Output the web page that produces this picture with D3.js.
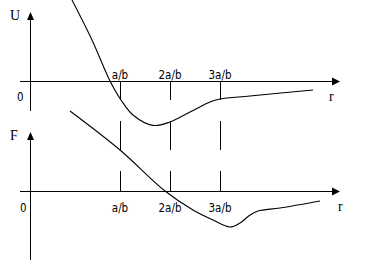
<!DOCTYPE html>
<html lang="en">
<head>
<meta charset="UTF-8">
<title>U and F versus r</title>
<script src="https://d3js.org/d3.v7.min.js"></script>
<style>
  body { margin: 0; background: #fff; }
  svg { display: block; }
  .axis { stroke: #000; stroke-width: 1; shape-rendering: crispEdges; }
  .curve { fill: none; stroke: #000; stroke-width: 1.1; }
  .tick { font-family: "DejaVu Sans Condensed", "DejaVu Sans", sans-serif; font-size: 11.5px; }
  .sym { font-family: "Liberation Serif", serif; font-size: 14px; }
</style>
</head>
<body>
<div id="chart"></div>
<script>
// r in units of a/b
var tickValues = [1, 2, 3];
var tickLabels = ["a/b", "2a/b", "3a/b"];

// potential energy U(r), arbitrary units
var uR = [0.04, 0.44, 0.8, 1.02, 1.26, 1.66, 2.0, 2.4, 2.8, 3.0, 3.6, 4.86];
var uVal = [4.05, 2.05, 0, -0.95, -1.7, -2.22, -2.05, -1.55, -1.05, -0.9, -0.75, -0.45];

// force F(r), arbitrary units
var fR = [0, 1, 1.9, 2.46, 2.86, 3.2, 3.4, 3.6, 3.76, 4.2, 5.0];
var fVal = [4.0, 2.05, 0, -0.95, -1.45, -1.8, -1.6, -1.2, -1.0, -0.85, -0.5];

var W = 380, H = 261;
var svg = d3.select("#chart").append("svg").attr("width", W).attr("height", H);

var x = d3.scaleLinear().domain([-1, 5.4]).range([20, 340]);
var yU = d3.scaleLinear().domain([-1.5, 3.45]).range([111, 12]);
var yF = d3.scaleLinear().domain([-3.45, 2.95]).range([260, 132]);

var x0 = 30.5; // vertical axis position

function arrowUp(px, py) {
  return "M" + px + "," + py + "L" + (px - 3.5) + "," + (py + 8) + "L" + (px + 3.5) + "," + (py + 8) + "Z";
}
function arrowRight(px, py) {
  return "M" + px + "," + py + "L" + (px - 8) + "," + (py - 4) + "L" + (px - 8) + "," + (py + 4) + "Z";
}

function panel(y, label, labelsAbove, yName) {
  var zy = Math.round(y(0)) + 0.5;
  var top = y.range()[1], bottom = y.range()[0];
  svg.append("line").attr("class", "axis")
    .attr("x1", x0).attr("x2", x0).attr("y1", top + 4).attr("y2", bottom);
  svg.append("path").attr("d", arrowUp(x0, top)).attr("fill", "#000");
  svg.append("line").attr("class", "axis")
    .attr("x1", x.range()[0]).attr("x2", x.range()[1] - 4).attr("y1", zy).attr("y2", zy);
  svg.append("path").attr("d", arrowRight(x.range()[1], zy)).attr("fill", "#000");

  svg.selectAll(null).data(tickValues).enter().append("text")
    .attr("class", "tick")
    .attr("x", function (d) { return x(d); })
    .attr("y", labelsAbove ? zy - 3 : zy + 20)
    .attr("text-anchor", "middle")
    .text(function (d, i) { return tickLabels[i]; });

  svg.append("text").attr("class", "sym").attr("x", 10).attr("y", top + 8).text(yName);
  svg.append("text").attr("class", "tick")
    .attr("x", labelsAbove ? 17 : 20).attr("y", labelsAbove ? zy + 19 : zy + 20).text("0");
  svg.append("text").attr("class", "sym")
    .attr("x", labelsAbove ? 329 : 338).attr("y", zy + 19).text("r");
}

panel(yU, "U", true, "U");
panel(yF, "F", false, "F");

// vertical dashes at a/b, 2a/b, 3a/b
var segs = [[yU(0), yU(-0.95)], [yF(3.5), yF(2.05)], [yF(1), yF(0)]];
tickValues.forEach(function (t) {
  segs.forEach(function (s) {
    svg.append("line").attr("class", "axis")
      .attr("x1", Math.round(x(t)) + 0.5).attr("x2", Math.round(x(t)) + 0.5)
      .attr("y1", s[0]).attr("y2", s[1]);
  });
});

var lineU = d3.line().curve(d3.curveCatmullRom.alpha(0.5))
  .x(function (d, i) { return x(uR[i]); })
  .y(function (d) { return yU(d); });
svg.append("path").attr("class", "curve").attr("d", lineU(uVal));

var lineF = d3.line().curve(d3.curveCatmullRom.alpha(0.5))
  .x(function (d, i) { return x(fR[i]); })
  .y(function (d) { return yF(d); });
svg.append("path").attr("class", "curve").attr("d", lineF(fVal));
</script>
</body>
</html>
